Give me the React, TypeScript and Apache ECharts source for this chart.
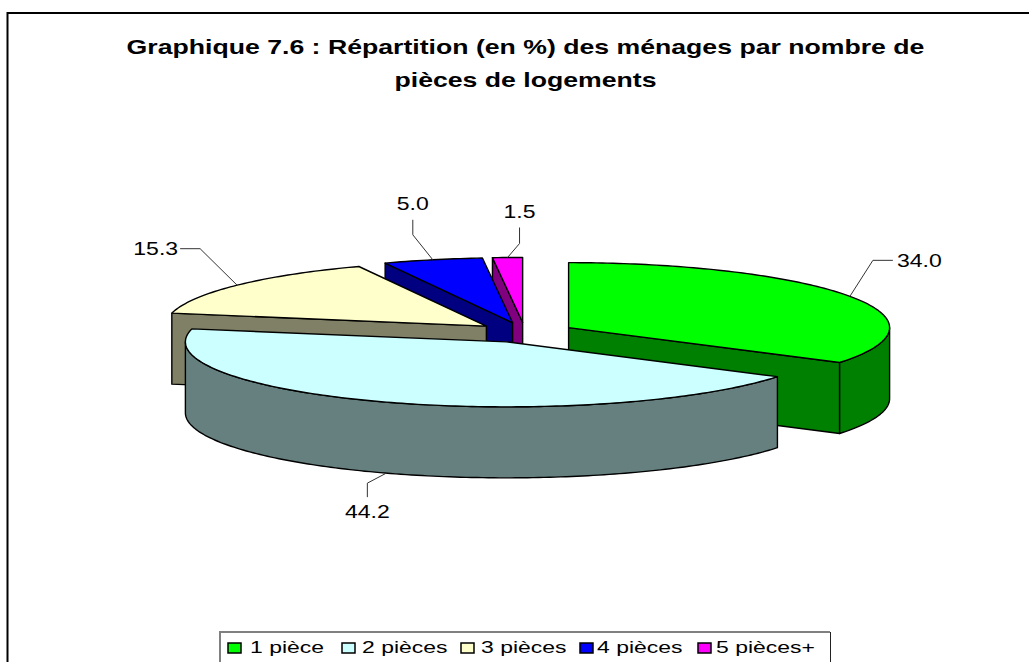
import React, { useEffect, useRef } from "react";
import * as echarts from "echarts";

const categories = ["1 pièce", "2 pièces", "3 pièces", "4 pièces", "5 pièces+"];
const shares = [34.0, 44.2, 15.3, 5.0, 1.5];
const shareLabels = ["34.0", "44.2", "15.3", "5.0", "1.5"];
const titleLines = [
  "Graphique 7.6 : Répartition (en %) des ménages par nombre de",
  "pièces de logements",
];

const topColors = ["#00FF00", "#CCFFFF", "#FFFFCC", "#0000FF", "#FF00FF"];
const wallColors = ["#008000", "#668080", "#808066", "#000080", "#800080"];
// painter's order, back to front
const drawOrder = [4, 3, 2, 0, 1];

// pie geometry
const CX = 525, CY = 332.5, RX = 321, RY = 65, DEPTH = 71, EXPLODE = 0.155;
// leader elbow and label placement relative to the anchor on the rim
const leaderLayout = [
  { points: [[23, -36], [43, -36]], label: [47, -35.5], align: "left" },
  { points: [[-19, 10], [-19, 24]], label: [-19, 38], align: "center" },
  { points: [[-37, -36.5], [-57, -36.5]], label: [-59, -36.5], align: "right" },
  { points: [[-20, -25], [-20, -40]], label: [-20, -56], align: "center" },
  { points: [[12, -14], [12, -30]], label: [12, -46], align: "center" },
];

const FONT = '"Liberation Sans", Arial, sans-serif';
const LABEL_STRETCH = 1.28;
const LEGEND_STRETCH = 1.35;
const TITLE_STRETCH = 1.333;

const rad = (d: number) => (d * Math.PI) / 180;

function renderSlice(i: number, value: number) {
  const before = shares.slice(0, i).reduce((a, b) => a + b, 0);
  const total = shares.reduce((a, b) => a + b, 0);
  const a0 = (before / total) * 360;
  const a1 = a0 + (value / total) * 360;
  const mid = (a0 + a1) / 2;
  const ax = CX + EXPLODE * RX * Math.sin(rad(mid));
  const ay = CY - EXPLODE * RY * Math.cos(rad(mid));
  const rim = (a: number, drop = 0): number[] => [
    ax + RX * Math.sin(rad(a)),
    ay - RY * Math.cos(rad(a)) + drop,
  ];
  const arc = (s: number, e: number, drop = 0) => {
    const pts: number[][] = [];
    const n = Math.max(2, Math.ceil(e - s));
    for (let k = 0; k <= n; k++) pts.push(rim(s + ((e - s) * k) / n, drop));
    return pts;
  };
  const stroke = { stroke: "#000", lineWidth: 1.4, lineJoin: "round" };
  const children: any[] = [];
  const wall = (p: number[]) => ({
    type: "polygon",
    shape: { points: [[ax, ay], p, [p[0], p[1] + DEPTH], [ax, ay + DEPTH]] },
    style: { fill: wallColors[i], ...stroke },
  });
  if (Math.sin(rad(a0)) < -1e-6) children.push(wall(rim(a0)));
  if (Math.sin(rad(a1)) > 1e-6) children.push(wall(rim(a1)));
  const vs = Math.max(a0, 90), ve = Math.min(a1, 270);
  if (ve > vs) {
    children.push({
      type: "polygon",
      shape: { points: [...arc(vs, ve), ...arc(vs, ve, DEPTH).reverse()] },
      style: { fill: wallColors[i], ...stroke },
    });
  }
  children.push({
    type: "polygon",
    shape: { points: [[ax, ay], ...arc(a0, a1)] },
    style: { fill: topColors[i], ...stroke },
  });
  // leader line and value label
  const onFront = mid > 90 && mid < 270;
  const anchor = rim(mid, onFront ? DEPTH : 0);
  const layout = leaderLayout[i];
  children.push({
    type: "polyline",
    shape: {
      points: [anchor, ...layout.points.map((p) => [anchor[0] + p[0], anchor[1] + p[1]])],
    },
    style: { fill: "none", stroke: "#333", lineWidth: 1 },
  });
  children.push({
    type: "text",
    x: anchor[0] + layout.label[0],
    y: anchor[1] + layout.label[1],
    scaleX: LABEL_STRETCH,
    style: {
      x: 0,
      y: 0,
      text: shareLabels[i],
      fill: "#000",
      font: `18px ${FONT}`,
      textAlign: layout.align,
      textVerticalAlign: "middle",
    },
  });
  return { type: "group", children };
}

// legend layout: swatch x and text x
const legendSwatchX = [228, 342, 461, 580, 698];
const legendTextX = [250, 362, 481, 597, 716];

export default function App() {
  const ref = useRef<HTMLDivElement>(null);
  useEffect(() => {
    document.body.style.margin = "0";
    const chart = echarts.init(ref.current!, undefined, { renderer: "svg" });
    const legendItems: any[] = [];
    categories.forEach((name, i) => {
      legendItems.push({
        type: "rect",
        z: 12,
        shape: { x: legendSwatchX[i], y: 643, width: 13, height: 10 },
        style: { fill: topColors[i], stroke: "#000", lineWidth: 1.5 },
      });
      legendItems.push({
        type: "text",
        z: 12,
        x: legendTextX[i],
        y: 647.5,
        scaleX: LEGEND_STRETCH,
        style: { text: name, fill: "#000", font: `17px ${FONT}`, textAlign: "left", textVerticalAlign: "middle" },
      });
    });
    chart.setOption({
      animation: false,
      backgroundColor: "#fff",
      graphic: [
        {
          type: "polyline",
          z: 1,
          shape: { points: [[7.5, 700], [7.5, 13], [1040, 13]] },
          style: { fill: "none", stroke: "#000", lineWidth: 2 },
        },
        ...titleLines.map((t, k) => ({
          type: "text",
          z: 12,
          x: 525.5,
          y: 47 + k * 33,
          scaleX: TITLE_STRETCH,
          style: { text: t, fill: "#000", font: `bold 20px ${FONT}`, textAlign: "center", textVerticalAlign: "middle" },
        })),
        {
          type: "polyline",
          z: 11,
          shape: { points: [[220, 700], [220, 632], [830, 632]] },
          style: { fill: "none", stroke: "#808080", lineWidth: 2 },
        },
        {
          type: "line",
          z: 11,
          shape: { x1: 830.5, y1: 632, x2: 830.5, y2: 700 },
          style: { stroke: "#222", lineWidth: 1 },
        },
        ...legendItems,
      ],
      series: drawOrder.map((i) => ({
        type: "custom",
        name: categories[i],
        coordinateSystem: "none",
        silent: true,
        clip: false,
        data: [shares[i]],
        renderItem: (_p: any, api: any) => renderSlice(i, api.value(0)),
      })),
    });
    return () => chart.dispose();
  }, []);
  return <div ref={ref} style={{ position: "fixed", left: 0, top: 0, width: 1029, height: 662 }} />;
}
